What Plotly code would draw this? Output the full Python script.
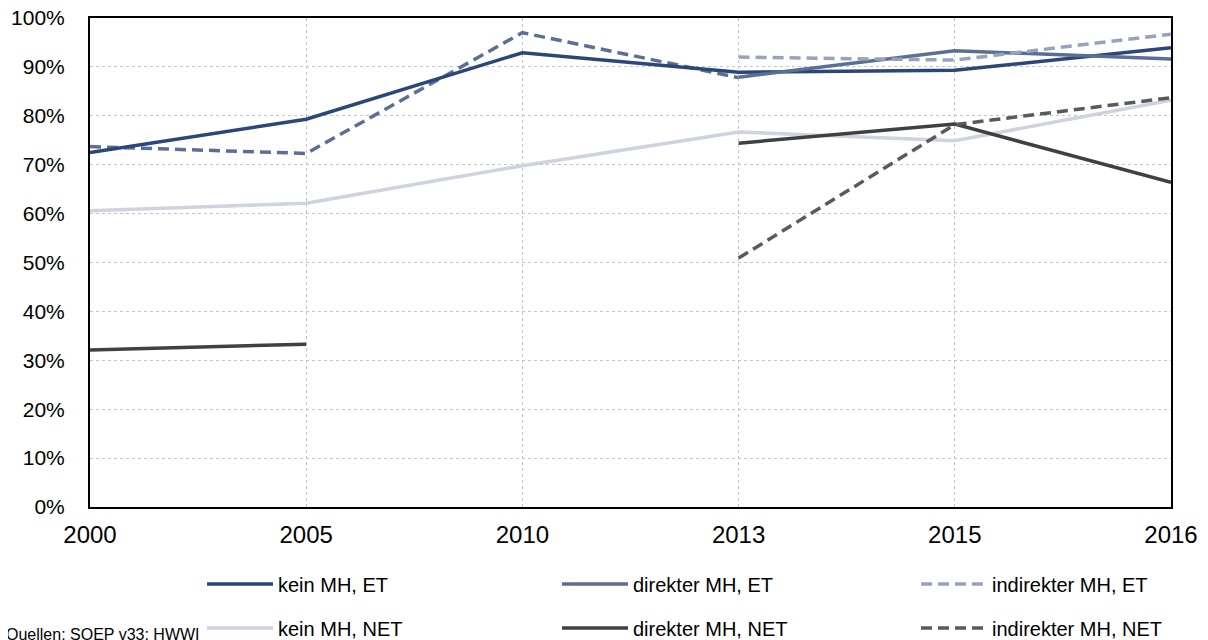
import plotly.graph_objects as go

years = ["2000", "2005", "2010", "2013", "2015", "2016"]

kein_et = [72.5, 79.3, 92.9, 88.9, 89.3, 93.9]
direkt_et = [None, None, None, 87.9, 93.3, 91.6]
indirekt_et = [None, None, None, 92.0, 91.4, 96.7]
kein_net = [60.6, 62.1, 69.8, 76.7, 74.9, 83.2]
direkt_net = [None, None, None, 74.4, 78.3, 66.4]
indirekt_net = [None, None, None, 50.9, 78.2, 83.7]
# combined migration background series (earlier waves, not in legend)
mh_et_early = [73.7, 72.3, 97.0, 87.8, None, None]
mh_net_early = [32.1, 33.3, None, None, None, None]

yticks = [0, 10, 20, 30, 40, 50, 60, 70, 80, 90, 100]
ytick_labels = [f"{v}%" for v in yticks]

C_KEIN_ET = "#2b4679"
C_DIR_ET = "#5b6f94"
C_IND_ET = "#97a3bc"
C_KEIN_NET = "#cdd3df"
C_DIR_NET = "#404040"
C_IND_NET = "#5a5a5a"
DASH = "11px,6px"
LW = 3.5
FONT = "Liberation Sans, Arial, sans-serif"

W, H = 1208, 640
OFF = 8  # page body margin
# plot area in page pixels
PL, PR, PT, PB = 90, 1171, 18, 507
# legend slot positions (page pixels): line start x, row centre y
COLS = [208, 563, 922]
ROWS = [584, 628]

fig = go.Figure()

def add(name, y, color, dash="solid", legend=None):
    fig.add_trace(go.Scatter(
        x=years, y=y, name=name, mode="lines",
        line=dict(color=color, width=LW, dash=dash),
        connectgaps=False, showlegend=legend is not None,
        legend=legend if legend else "legend",
    ))

add("kein MH, NET", kein_net, C_KEIN_NET, legend="legend4")
add("MH, NET (früh)", mh_net_early, C_DIR_NET)
add("MH, ET (früh)", mh_et_early, C_DIR_ET, DASH)
add("kein MH, ET", kein_et, C_KEIN_ET, legend="legend")
add("direkter MH, ET", direkt_et, C_DIR_ET, legend="legend2")
add("indirekter MH, ET", indirekt_et, C_IND_ET, DASH, legend="legend3")
add("direkter MH, NET", direkt_net, C_DIR_NET, legend="legend5")
add("indirekter MH, NET", indirekt_net, C_IND_NET, DASH, legend="legend6")

legends = {}
names = ["legend", "legend2", "legend3", "legend4", "legend5", "legend6"]
for i, nm in enumerate(names):
    r, c = divmod(i, 3)
    legends[nm] = dict(
        orientation="h", xref="container", yref="container",
        x=(COLS[c] - OFF - 6) / W, y=(H - (ROWS[r] - OFF)) / H,
        xanchor="left", yanchor="middle",
        font=dict(family=FONT, size=20, color="#000000"),
        itemwidth=66, bgcolor="rgba(0,0,0,0)", borderwidth=0,
        itemclick=False, itemdoubleclick=False,
    )

fig.update_layout(
    width=W, height=H,
    margin=dict(l=PL - OFF, r=W - (PR - OFF), t=PT - OFF, b=H - (PB - OFF),
                autoexpand=False),
    paper_bgcolor="white", plot_bgcolor="white",
    font=dict(family=FONT, size=21, color="#000000"),
    xaxis=dict(
        type="category", range=[0, 5], automargin=False,
        showgrid=True, gridcolor="#c4c4c4", griddash="dot", gridwidth=1,
        showline=True, linecolor="#000000", linewidth=2, mirror=True,
        ticks="", ticklabelstandoff=5, ticklabeloverflow="allow",
        tickfont=dict(family=FONT, size=24, color="#000000"),
        zeroline=False,
    ),
    yaxis=dict(
        range=[0, 100], automargin=False,
        tickmode="array", tickvals=yticks, ticktext=ytick_labels,
        showgrid=True, gridcolor="#c4c4c4", griddash="dot", gridwidth=1,
        showline=True, linecolor="#000000", linewidth=2, mirror=True,
        ticks="", ticklabelstandoff=19, ticklabeloverflow="allow",
        tickfont=dict(family=FONT, size=21, color="#000000"),
        zeroline=False,
    ),
    showlegend=True,
    **legends,
)

plot_w = PR - PL
plot_h = PB - PT
fig.add_annotation(
    text="Quellen: SOEP v33; HWWI",
    xref="paper", yref="paper",
    x=(4 - PL) / plot_w, y=(PB - 624) / plot_h,
    xanchor="left", yanchor="top", showarrow=False,
    font=dict(family=FONT, size=16, color="#000000"),
)

fig.write_html("out.html")
